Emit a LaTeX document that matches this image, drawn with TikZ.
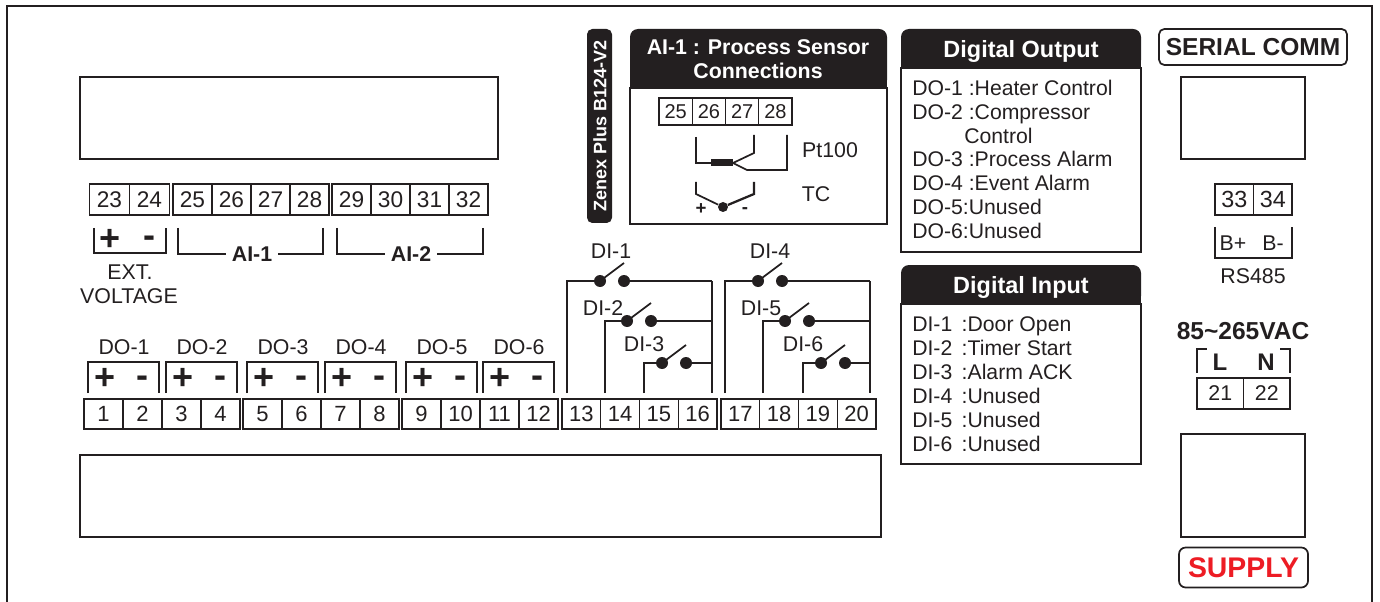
\documentclass[tikz,border=0pt]{standalone}
\usepackage{fontspec}
\setmainfont{Liberation Sans}
\definecolor{panelink}{HTML}{231F20}
\definecolor{supplyred}{HTML}{ED1C24}
\tikzset{
  wire/.style={draw=panelink,line width=1.3pt},
  thinbox/.style={draw=panelink,line width=1.3pt},
  cellbox/.style={draw=panelink,line width=0.8pt,inner sep=0pt,text=panelink,text depth=0pt},
  smalltxt/.style={inner sep=0pt,text=panelink,text height=11.5pt,text depth=0pt,font=\fontsize{16}{18}\selectfont},
  boldtxt/.style={inner sep=0pt,text=panelink,text height=11.5pt,text depth=0pt,font=\bfseries\fontsize{16}{18}\selectfont},
  signtxt/.style={inner sep=0pt,text=panelink,font=\bfseries\fontsize{27}{27}\selectfont},
  headtxt/.style={inner sep=0pt,text=white,align=center,font=\bfseries\fontsize{17.6}{18}\selectfont},
  linetxt/.style={inner sep=0pt,anchor=west,text=panelink,text height=11.4pt,text depth=0pt,font=\fontsize{15.9}{18}\selectfont},
  swdot/.style={circle,fill=panelink,inner sep=0pt,minimum size=9pt},
}
% one strip of terminals: name, left, top, cell width, height, font size, labels
\newcommand{\termstrip}[7]{
  \foreach \n [count=\i from 0] in {#7} {
    \node[cellbox,rectangle,font=\fontsize{#6}{18}\selectfont,text height=#6*0.7pt,minimum width=#4*0.75pt,minimum height=#5*0.75pt] (#1\n) at ({#2+(\i+0.5)*#4},{#3+0.5*#5}) {\n};
  }
}
% normally open contact with its wires
\newcommand{\diswitch}[6]{
  \node[swdot] (#1a) at (#3,#4) {};
  \node[swdot] (#1b) at (#3+24,#4) {};
  \coordinate (#1t) at (#3+24,#4-18);
  \coordinate (#1l) at (#2,#6);
  \coordinate (#1c) at (#2,#4);
  \coordinate (#1r) at (#5,#4);
  \draw[wire] (#1l) -- (#1c) -- (#1a);
  \draw[wire] (#1b) -- (#1r);
  \draw[wire] (#1a.center) -- (#1t);
}
\begin{document}
\begin{tikzpicture}[x=0.75pt,y=0.75pt,yscale=-1,xscale=1]
\useasboundingbox (0,0) rectangle (1380,602);

% outer outline, cut at the bottom
\draw[wire] (7,602) -- (7,6) -- (1372,6) -- (1372,602);

% display windows
\draw[thinbox] (80,77) rectangle (498,159);
\draw[thinbox] (80,455) rectangle (881,537);
\draw[thinbox] (1181,77) rectangle (1305,159);
\draw[thinbox] (1181,434) rectangle (1305,537);

% upper terminals
\termstrip{ta}{89.5}{184}{40}{31}{17}{23,24}
\termstrip{tb}{173}{184}{39}{31}{17}{25,26,27,28}
\termstrip{tc}{332}{184}{39}{31}{17}{29,30,31,32}
\draw[thinbox] (89.5,184) rectangle (169.5,215);
\draw[thinbox] (173,184) rectangle (329,215);
\draw[thinbox] (332,184) rectangle (488,215);

\draw[wire] (94,228) -- (94,253) -- (166,253) -- (166,228);
\node[signtxt] (extplus) at (110,240) {+};
\node[signtxt] (extminus) at (149,242) {-};
\node[smalltxt] (extone) at (130,272) {EXT.};
\node[smalltxt] (exttwo) at (129,296) {VOLTAGE};

\node[boldtxt] (aione) at (252,254) {AI-1};
\node[boldtxt] (aitwo) at (411,254) {AI-2};
\coordinate (aionea) at (178,228);
\coordinate (aioneb) at (323,228);
\coordinate (aitwoa) at (337,228);
\coordinate (aitwob) at (483,228);
\draw[wire] (aionea) |- ([xshift=-4.5pt]aione.west);
\draw[wire] (aioneb) |- ([xshift=4.5pt]aione.east);
\draw[wire] (aitwoa) |- ([xshift=-4.5pt]aitwo.west);
\draw[wire] (aitwob) |- ([xshift=4.5pt]aitwo.east);

% lower terminals
\termstrip{td}{84}{399}{39}{30}{16.5}{1,2,3,4}
\termstrip{te}{243}{399}{39}{30}{16.5}{5,6,7,8}
\termstrip{tf}{402}{399}{39}{30}{16.5}{9,10,11,12}
\termstrip{tg}{562}{399}{38.75}{30}{16.5}{13,14,15,16}
\termstrip{th}{721}{399}{38.75}{30}{16.5}{17,18,19,20}
\draw[thinbox] (84,399) rectangle (240,429);
\draw[thinbox] (243,399) rectangle (399,429);
\draw[thinbox] (402,399) rectangle (558,429);
\draw[thinbox] (562,399) rectangle (717,429);
\draw[thinbox] (721,399) rectangle (876,429);

% digital output brackets
\foreach \x/\n in {88/1,166/2,247/3,325/4,406/5,483/6} {
  \draw[wire] (\x,393) -- (\x,362) -- (\x+71,362) -- (\x+71,393);
  \node[signtxt] (plus\n) at (\x+17,379) {+};
  \node[signtxt] (minus\n) at (\x+54,382) {-};
  \node[smalltxt] (dolabel\n) at (\x+36,347) {DO-\n};
}

% digital input contacts
\diswitch{sa}{567}{600}{281}{712}{393}
\diswitch{sb}{605}{627}{321}{712}{393}
\diswitch{sc}{644}{662}{363}{712}{393}
\diswitch{sd}{725}{758}{281}{870}{393}
\diswitch{se}{763}{785}{321}{870}{393}
\diswitch{sf}{803}{821}{363}{870}{393}
\coordinate (busa) at (712,393);
\coordinate (busb) at (870,393);
\draw[wire] (sar) -- (busa);
\draw[wire] (sdr) -- (busb);
\node[smalltxt] (dione) at (611,251) {DI-1};
\node[smalltxt] (ditwo) at (603,308) {DI-2};
\node[smalltxt] (dithree) at (644,344) {DI-3};
\node[smalltxt] (difour) at (770,251) {DI-4};
\node[smalltxt] (difive) at (761,308) {DI-5};
\node[smalltxt] (disix) at (803,344) {DI-6};

% board name
\fill[panelink,rounded corners=4pt] (587,29) rectangle (612,223);
\node[headtxt,rotate=90,font=\bfseries\fontsize{13.5}{15}\selectfont] (boardname) at (600,126) {Zenex Plus B124-V2};

% process sensor panel
\draw[thinbox] (630,88) rectangle (887,224);
\fill[panelink,rounded corners=6pt] (630,88) -- (630,29) -- (887,29) -- (887,88) -- cycle;
\fill[panelink] (630,70) rectangle (887,88);
\node[headtxt,font=\bfseries\fontsize{16}{18}\selectfont] (sensorhead) at (758,59) {AI-1 : Process Sensor\\Connections};
\termstrip{ti}{659}{98}{33.25}{27}{15}{25,26,27,28}
\draw[panelink,line width=1pt] (659,98) rectangle (792,125);

% Pt100 and thermocouple symbols
\coordinate (rtdl) at (711,163);
\coordinate (rtdr) at (733,163);
\draw[wire] (696,137) -- (696,163) -- (rtdl);
\fill[panelink] (711,159.5) rectangle (733,166.5);
\draw[wire] (rtdr) -- (754,153) -- (754,135);
\draw[wire] (rtdr) -- (747,170) -- (787,170) -- (787,135);
\node[smalltxt] (ptlabel) at (830,150) {Pt100};
\node[swdot,minimum size=7.5pt] (tcjoint) at (723,207) {};
\draw[wire] (696,182) -- (696,194) -- (tcjoint);
\draw[wire,line width=1.7pt] (tcjoint) -- (754,194) -- (754,182);
\node[inner sep=0pt,text=panelink,font=\bfseries\fontsize{14}{14}\selectfont] (tcplus) at (701,209) {+};
\node[inner sep=0pt,text=panelink,font=\bfseries\fontsize{14}{14}\selectfont] (tcminus) at (745,211) {-};
\node[smalltxt] (tclabel) at (816,194) {TC};

% digital output panel
\draw[thinbox] (901,68) rectangle (1141,252);
\fill[panelink,rounded corners=6pt] (901,68) -- (901,29) -- (1141,29) -- (1141,68) -- cycle;
\fill[panelink] (901,50) rectangle (1141,68);
\node[headtxt,text height=12.6pt,text depth=0pt] (outhead) at (1021,49) {Digital Output};
\node[linetxt] (outa) at (912,88) {DO-1 :Heater Control};
\node[linetxt] (outb) at (912,112) {DO-2 :Compressor};
\node[linetxt] (outc) at (964,136) {Control};
\node[linetxt] (outd) at (912,159) {DO-3 :Process Alarm};
\node[linetxt] (oute) at (912,183) {DO-4 :Event Alarm};
\node[linetxt] (outf) at (912,207) {DO-5:Unused};
\node[linetxt] (outg) at (912,231) {DO-6:Unused};

% digital input panel
\draw[thinbox] (901,304) rectangle (1141,464);
\fill[panelink,rounded corners=6pt] (901,304) -- (901,265) -- (1141,265) -- (1141,304) -- cycle;
\fill[panelink] (901,286) rectangle (1141,304);
\node[headtxt,text height=12.6pt,text depth=0pt] (inhead) at (1021,285) {Digital Input};
\node[linetxt] (ina) at (912,324) {DI-1 \,:Door Open};
\node[linetxt] (inb) at (912,348) {DI-2 \,:Timer Start};
\node[linetxt] (inc) at (912,372) {DI-3 \,:Alarm ACK};
\node[linetxt] (ind) at (912,396) {DI-4 \,:Unused};
\node[linetxt] (ine) at (912,420) {DI-5 \,:Unused};
\node[linetxt] (inf) at (912,444) {DI-6 \,:Unused};

% right hand column
\node[thinbox,rounded corners=4pt,rectangle,minimum width=141pt,minimum height=27pt,inner sep=0pt,text=panelink,font=\bfseries\fontsize{18.4}{18}\selectfont] (serial) at (1253,47) {SERIAL COMM};
\termstrip{tj}{1215}{184}{38.5}{31}{17.5}{33,34}
\draw[thinbox] (1215,184) rectangle (1292,215);
\draw[wire] (1215,227) -- (1215,258) -- (1292,258) -- (1292,227);
\node[smalltxt] (bplus) at (1233,243) {B+};
\node[smalltxt] (bminus) at (1273,243) {B-};
\node[smalltxt] (rslabel) at (1253,276) {RS485};
\node[boldtxt,text height=13.2pt,font=\bfseries\fontsize{18.4}{18}\selectfont] (mains) at (1243,331) {85\textasciitilde 265VAC};
\draw[wire] (1197,373) -- (1197,349) -- (1207,349);
\draw[wire] (1280,349) -- (1290,349) -- (1290,373);
\node[boldtxt,text height=13pt,font=\bfseries\fontsize{18}{18}\selectfont] (linel) at (1220,362) {L};
\node[boldtxt,text height=13pt,font=\bfseries\fontsize{18}{18}\selectfont] (linen) at (1266,362) {N};
\termstrip{tk}{1197}{378}{46.5}{31}{16}{21,22}
\draw[thinbox] (1197,378) rectangle (1290,409);
\node[thinbox,rounded corners=5pt,rectangle,minimum width=96.75pt,minimum height=30pt,inner sep=0pt,text=supplyred,font=\bfseries\fontsize{21.3}{20}\selectfont] (supply) at (1243.5,567.5) {SUPPLY};

\end{tikzpicture}
\end{document}
